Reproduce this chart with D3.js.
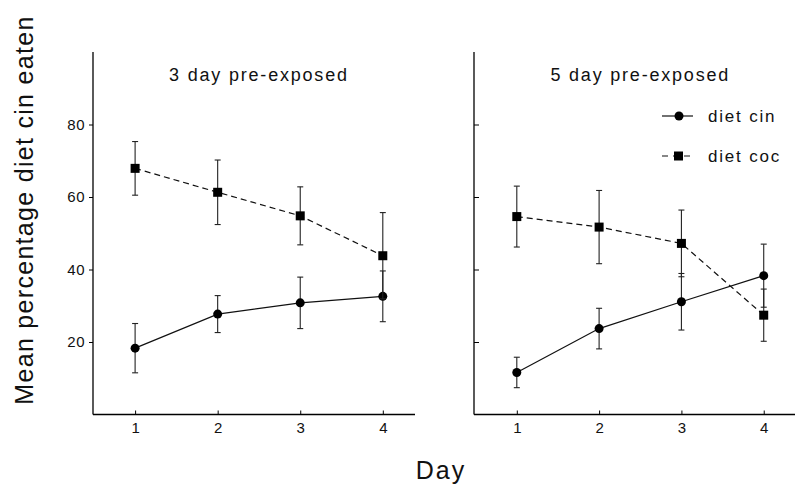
<!DOCTYPE html>
<html>
<head>
<meta charset="utf-8">
<script src="https://cdn.jsdelivr.net/npm/d3@7"></script>
<style>
  body { margin: 0; background: #fff; }
  svg { display: block; font-family: "Liberation Sans", Arial, sans-serif; }
</style>
</head>
<body>
<div id="wrapper"></div>
<script>
const days = [1, 2, 3, 4];
const yTicks = [20, 40, 60, 80];
const panelTitles = ["3 day pre-exposed", "5 day pre-exposed"];
const seriesNames = ["diet cin", "diet coc"];

// 3 day pre-exposed
const cin3Mean = [18.3, 27.7, 30.8, 32.6];
const cin3Err = [6.8, 5.1, 7.1, 7.0];
const coc3Mean = [67.9, 61.3, 54.8, 43.8];
const coc3Err = [7.4, 8.9, 8.0, 11.9];

// 5 day pre-exposed
const cin5Mean = [11.6, 23.7, 31.1, 38.3];
const cin5Err = [4.2, 5.6, 7.8, 8.7];
const coc5Mean = [54.6, 51.7, 47.2, 27.4];
const coc5Err = [8.4, 10.1, 9.2, 7.2];

function drawChart() {
    const width = 795, height = 492;

    const svg = d3.select("#wrapper")
        .append("svg")
        .attr("width", width)
        .attr("height", height);

    const yScale = d3.scaleLinear().domain([0, 100]).range([414.5, 52]);

    const panels = [
        { title: panelTitles[0], left: 93, right: 415, domain: [0.49, 4.39], labels: true,
          series: [{ mean: cin3Mean, err: cin3Err, shape: "circle", dash: null },
                   { mean: coc3Mean, err: coc3Err, shape: "square", dash: "6,4" }] },
        { title: panelTitles[1], left: 474, right: 795, domain: [0.48, 4.38], labels: false,
          series: [{ mean: cin5Mean, err: cin5Err, shape: "circle", dash: null },
                   { mean: coc5Mean, err: coc5Err, shape: "square", dash: "6,4" }] }
    ];

    panels.forEach(p => {
        const xScale = d3.scaleLinear().domain(p.domain).range([p.left, p.right]);
        const g = svg.append("g");

        // y axis
        const yAxis = d3.axisLeft(yScale).tickValues(yTicks).tickSizeOuter(0);
        if (p.labels) {
            yAxis.tickSize(4).tickPadding(4);
        } else {
            yAxis.tickSize(-5).tickFormat("");
        }
        const yg = g.append("g")
            .attr("transform", `translate(${p.left},0)`)
            .call(yAxis);
        yg.select(".domain").remove();
        yg.append("line")
            .attr("x1", 0).attr("x2", 0)
            .attr("y1", yScale(100)).attr("y2", yScale(0))
            .attr("stroke", "#000").attr("stroke-width", 1.3);
        yg.selectAll("text").style("font-size", "15px").style("letter-spacing", "0.5px").attr("fill", "#111");

        // x axis
        const xg = g.append("g")
            .attr("transform", `translate(0,${yScale(0)})`)
            .call(d3.axisBottom(xScale).tickValues(days).tickFormat(d3.format("d"))
                .tickSize(-4).tickSizeOuter(0).tickPadding(8));
        xg.select(".domain").remove();
        xg.append("line")
            .attr("x1", p.left).attr("x2", p.right)
            .attr("y1", 0).attr("y2", 0)
            .attr("stroke", "#000").attr("stroke-width", 1.3);
        xg.selectAll("text").style("font-size", "15px").attr("fill", "#111");

        // title
        g.append("text")
            .attr("x", xScale(2.5))
            .attr("y", 81)
            .attr("text-anchor", "middle")
            .style("font-size", "18px")
            .style("letter-spacing", "1.8px")
            .attr("fill", "#111")
            .text(p.title);

        p.series.forEach(s => {
            const pts = days.map((d, i) => ({ d: d, m: s.mean[i], e: s.err[i] }));

            // error bars
            const eb = g.append("g").selectAll("g").data(pts).enter().append("g");
            eb.append("line")
                .attr("x1", d => xScale(d.d)).attr("x2", d => xScale(d.d))
                .attr("y1", d => yScale(d.m + d.e)).attr("y2", d => yScale(d.m - d.e))
                .attr("stroke", "#222").attr("stroke-width", 1.1);
            [1, -1].forEach(sign => {
                eb.append("line")
                    .attr("x1", d => xScale(d.d) - 3).attr("x2", d => xScale(d.d) + 3)
                    .attr("y1", d => yScale(d.m + sign * d.e)).attr("y2", d => yScale(d.m + sign * d.e))
                    .attr("stroke", "#222").attr("stroke-width", 1.1);
            });

            // line
            g.append("path")
                .datum(pts)
                .attr("fill", "none")
                .attr("stroke", "#111")
                .attr("stroke-width", 1.2)
                .attr("stroke-dasharray", s.dash)
                .attr("d", d3.line().x(d => xScale(d.d)).y(d => yScale(d.m)));

            // markers
            if (s.shape === "circle") {
                g.append("g").selectAll("circle").data(pts).enter().append("circle")
                    .attr("cx", d => xScale(d.d)).attr("cy", d => yScale(d.m))
                    .attr("r", 4.5).attr("fill", "#000");
            } else {
                g.append("g").selectAll("rect").data(pts).enter().append("rect")
                    .attr("x", d => xScale(d.d) - 4.5).attr("y", d => yScale(d.m) - 4.5)
                    .attr("width", 9).attr("height", 9).attr("fill", "#000");
            }
        });
    });

    // legend
    const legend = svg.append("g");
    const legendY = [116, 156];
    seriesNames.forEach((name, i) => {
        const y = legendY[i];
        if (i === 0) {
            legend.append("line").attr("x1", 662).attr("x2", 693).attr("y1", y).attr("y2", y)
                .attr("stroke", "#111").attr("stroke-width", 1.2);
            legend.append("circle").attr("cx", 679).attr("cy", y).attr("r", 4.5).attr("fill", "#000");
        } else {
            legend.append("line").attr("x1", 662).attr("x2", 693).attr("y1", y).attr("y2", y)
                .attr("stroke", "#111").attr("stroke-width", 1.2).attr("stroke-dasharray", "6,5");
            legend.append("rect").attr("x", 674).attr("y", y - 4.5).attr("width", 9).attr("height", 9).attr("fill", "#000");
        }
        legend.append("text")
            .attr("x", 708).attr("y", y)
            .attr("dy", "0.35em")
            .style("font-size", "17px")
            .style("letter-spacing", "1.8px")
            .attr("fill", "#111")
            .text(name);
    });

    // axis titles
    svg.append("text")
        .attr("transform", "translate(33,210) rotate(-90)")
        .attr("text-anchor", "middle")
        .style("font-size", "25px")
        .style("letter-spacing", "1.3px")
        .attr("fill", "#111")
        .text("Mean percentage diet cin eaten");

    svg.append("text")
        .attr("x", 441)
        .attr("y", 479)
        .attr("text-anchor", "middle")
        .style("font-size", "25px")
        .style("letter-spacing", "2px")
        .attr("fill", "#111")
        .text("Day");
}

drawChart();
</script>
</body>
</html>
